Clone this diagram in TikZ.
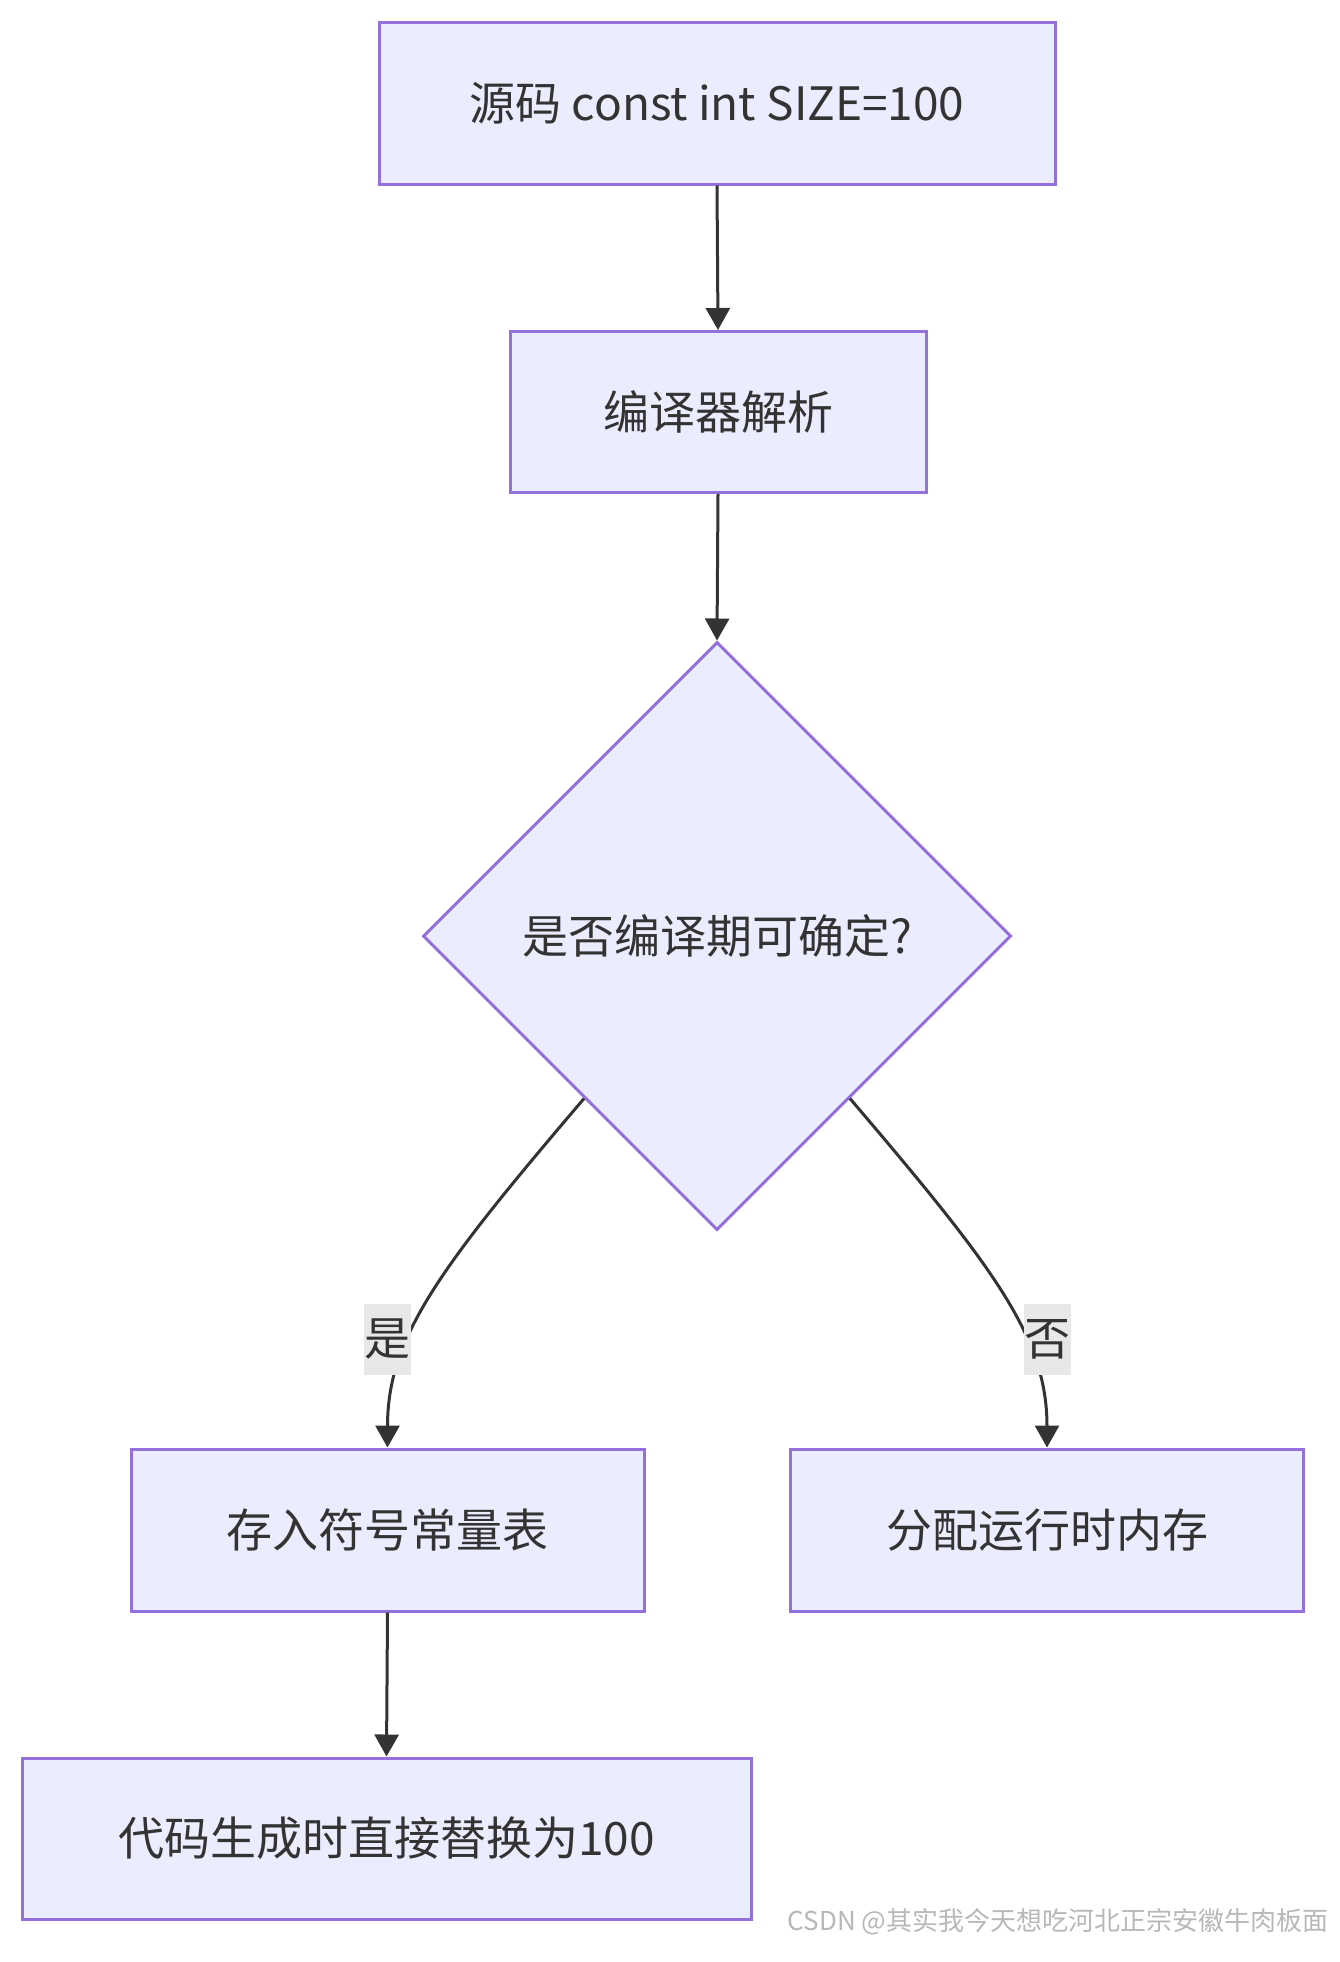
\documentclass[tikz,border=0pt]{standalone}
\usepackage{fontspec}
\setmainfont{Noto Sans CJK SC}
\usetikzlibrary{shapes.geometric,arrows.meta,calc}
\definecolor{nodefill}{HTML}{ECECFF}
\definecolor{nodeborder}{HTML}{9370DB}
\definecolor{edgecol}{HTML}{333333}
\definecolor{lblbg}{HTML}{E8E8E8}
\definecolor{wmcol}{HTML}{B8B8B8}
\begin{document}
\begin{tikzpicture}[x=1pt,y=-1pt,
  box/.style={draw=nodeborder,fill=nodefill,line width=3pt,inner sep=0pt,text=edgecol,font=\fontsize{46}{55}\selectfont},
  decbox/.style={box,shape=diamond,aspect=1,minimum width=588pt,minimum height=588pt},
  conn/.style={draw=edgecol,line width=3pt,-{Triangle[length=22pt,width=24pt]}},
  lbl/.style={fill=lblbg,text=edgecol,inner sep=0pt,minimum width=47pt,minimum height=71pt,font=\fontsize{46}{55}\selectfont}]
\useasboundingbox[fill=white] (0,0) rectangle (1339,1962);
\node[box,minimum width=676pt,minimum height=162pt] (src) at (717,103) {源码 const int SIZE=100};
\node[box,minimum width=416pt,minimum height=161pt] (parse) at (718,412) {编译器解析};
\node[decbox] (dec) at (717,936) {是否编译期可确定?};
\node[box,minimum width=513pt,minimum height=162pt] (tab) at (387.5,1530) {存入符号常量表};
\node[box,minimum width=513pt,minimum height=162pt] (mem) at (1047,1530) {分配运行时内存};
\node[box,minimum width=729pt,minimum height=161pt] (rep) at (386.5,1838.5) {代码生成时直接替换为100};
\draw[conn] (src.south) -- (parse.north);
\draw[conn] (parse.south) -- (dec.north);
\coordinate (yesstart) at ($(dec.west)!0.55!(dec.south)$);
\coordinate (nostart) at ($(dec.east)!0.55!(dec.south)$);
\draw[conn] (yesstart) .. controls ($(yesstart)+(-145,170)$) and ($(tab.north)+(0,-110)$) .. (tab.north);
\draw[conn] (nostart) .. controls ($(nostart)+(145,170)$) and ($(mem.north)+(0,-110)$) .. (mem.north);
\node[lbl] (yeslbl) at (387,1339) {是};
\node[lbl] (nolbl) at (1047,1339) {否};
\draw[conn] (tab.south) -- (rep.north);
\node[text=wmcol,inner sep=0pt,font=\fontsize{26}{30}\selectfont] (wm) at (1058,1922) {CSDN @其实我今天想吃河北正宗安徽牛肉板面};
\end{tikzpicture}
\end{document}
